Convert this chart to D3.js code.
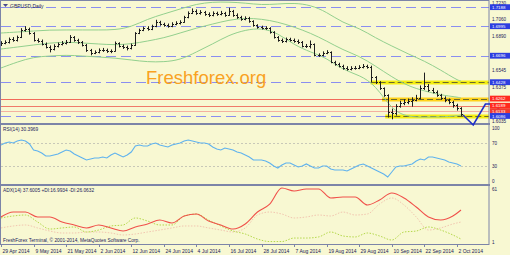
<!DOCTYPE html>
<html><head><meta charset="utf-8">
<script src="https://cdn.jsdelivr.net/npm/d3@7"></script>
<style>body{margin:0;background:#fff}svg{display:block}text{font-family:"Liberation Sans",Arial,sans-serif}</style>
</head><body><svg id="c" width="510" height="255"></svg>
<script>
// ---------- DATA ----------
const symbolTitle = "GBPUSD,Daily";
const tickIndex = [0,8,16,24,32,40,48,56,64,72,80,88,96,104,112];
const tickLabels = ["29 Apr 2014","9 May 2014","21 May 2014","2 Jun 2014","12 Jun 2014","24 Jun 2014","4 Jul 2014","16 Jul 2014","28 Jul 2014","7 Aug 2014","19 Aug 2014","29 Aug 2014","10 Sep 2014","22 Sep 2014","2 Oct 2014"];
const priceTicks = [1.7230,1.7060,1.6890,1.6545,1.6375,1.6035];
const open = [1.6810,1.6825,1.6835,1.6865,1.6855,1.6886,1.6957,1.6967,1.6926,1.6855,1.6845,1.6815,1.6784,1.6764,1.6795,1.6815,1.6825,1.6835,1.6886,1.6855,1.6835,1.6805,1.6754,1.6724,1.6734,1.6754,1.6754,1.6744,1.6744,1.6825,1.6795,1.6784,1.6774,1.6805,1.6926,1.6957,1.6977,1.6967,1.6997,1.7038,1.7017,1.7007,1.6997,1.7017,1.7027,1.7038,1.7088,1.7129,1.7149,1.7129,1.7139,1.7119,1.7108,1.7129,1.7119,1.7129,1.7108,1.7149,1.7108,1.7088,1.7068,1.7078,1.7048,1.7007,1.6987,1.6977,1.6977,1.6936,1.6886,1.6855,1.6845,1.6865,1.6855,1.6845,1.6835,1.6795,1.6795,1.6815,1.6703,1.6703,1.6724,1.6734,1.6633,1.6612,1.6592,1.6572,1.6562,1.6572,1.6572,1.6582,1.6592,1.6582,1.6481,1.6430,1.6369,1.6298,1.6126,1.6116,1.6187,1.6217,1.6227,1.6238,1.6248,1.6268,1.6369,1.6389,1.6349,1.6329,1.6298,1.6268,1.6248,1.6227,1.6197,1.6167];
const high = [1.6843,1.6852,1.6880,1.6885,1.6900,1.6975,1.6995,1.6980,1.6935,1.6872,1.6860,1.6830,1.6800,1.6812,1.6830,1.6845,1.6855,1.6905,1.6895,1.6868,1.6845,1.6815,1.6765,1.6750,1.6770,1.6775,1.6768,1.6760,1.6840,1.6832,1.6810,1.6798,1.6820,1.6935,1.6970,1.6990,1.6995,1.7010,1.7060,1.7050,1.7030,1.7022,1.7035,1.7045,1.7055,1.7100,1.7145,1.7175,1.7165,1.7158,1.7150,1.7135,1.7145,1.7142,1.7150,1.7140,1.7182,1.7160,1.7125,1.7100,1.7095,1.7090,1.7055,1.7015,1.7000,1.6995,1.6985,1.6945,1.6895,1.6870,1.6880,1.6878,1.6870,1.6860,1.6845,1.6815,1.6850,1.6820,1.6720,1.6740,1.6752,1.6740,1.6645,1.6625,1.6605,1.6590,1.6590,1.6592,1.6600,1.6612,1.6605,1.6595,1.6490,1.6438,1.6375,1.6305,1.6160,1.6205,1.6240,1.6255,1.6262,1.6275,1.6300,1.6395,1.6525,1.6410,1.6370,1.6345,1.6310,1.6285,1.6262,1.6240,1.6210,1.6175];
const low = [1.6795,1.6812,1.6820,1.6838,1.6840,1.6875,1.6940,1.6910,1.6840,1.6828,1.6800,1.6770,1.6730,1.6750,1.6780,1.6800,1.6810,1.6825,1.6838,1.6815,1.6790,1.6735,1.6700,1.6712,1.6720,1.6735,1.6725,1.6722,1.6738,1.6780,1.6765,1.6750,1.6760,1.6795,1.6915,1.6945,1.6950,1.6955,1.6985,1.7000,1.6990,1.6980,1.6985,1.7005,1.7012,1.7030,1.7075,1.7118,1.7110,1.7112,1.7100,1.7088,1.7095,1.7100,1.7105,1.7090,1.7100,1.7090,1.7070,1.7050,1.7055,1.7030,1.6990,1.6970,1.6962,1.6958,1.6920,1.6870,1.6838,1.6825,1.6830,1.6840,1.6828,1.6815,1.6780,1.6775,1.6770,1.6690,1.6685,1.6690,1.6712,1.6620,1.6595,1.6578,1.6555,1.6545,1.6548,1.6555,1.6560,1.6568,1.6565,1.6428,1.6410,1.6350,1.6280,1.6070,1.6052,1.6090,1.6170,1.6195,1.6205,1.6180,1.6235,1.6255,1.6350,1.6330,1.6315,1.6280,1.6250,1.6225,1.6205,1.6170,1.6140,1.6085];
const close = [1.6825,1.6835,1.6865,1.6855,1.6886,1.6957,1.6967,1.6926,1.6855,1.6845,1.6815,1.6784,1.6764,1.6795,1.6815,1.6825,1.6835,1.6886,1.6855,1.6835,1.6805,1.6754,1.6724,1.6734,1.6754,1.6754,1.6744,1.6744,1.6825,1.6795,1.6784,1.6774,1.6805,1.6926,1.6957,1.6977,1.6967,1.6997,1.7038,1.7017,1.7007,1.6997,1.7017,1.7027,1.7038,1.7088,1.7129,1.7149,1.7129,1.7139,1.7119,1.7108,1.7129,1.7119,1.7129,1.7108,1.7149,1.7108,1.7088,1.7068,1.7078,1.7048,1.7007,1.6987,1.6977,1.6977,1.6936,1.6886,1.6855,1.6845,1.6865,1.6855,1.6845,1.6835,1.6795,1.6795,1.6815,1.6703,1.6703,1.6724,1.6734,1.6633,1.6612,1.6592,1.6572,1.6562,1.6572,1.6572,1.6582,1.6592,1.6582,1.6481,1.6430,1.6369,1.6298,1.6126,1.6116,1.6187,1.6217,1.6227,1.6238,1.6248,1.6268,1.6369,1.6389,1.6349,1.6329,1.6298,1.6268,1.6248,1.6227,1.6197,1.6167,1.6106];

// Bollinger bands, sampled every 4 bars
const bbIndex = [0,4,8,12,16,20,24,28,32,36,40,44,48,52,56,60,64,68,72,76,80,84,88,92,96,100,104,108,112,113];
const bbUpper = [1.6926,1.6936,1.6946,1.6957,1.6957,1.6957,1.6957,1.6957,1.6987,1.7068,1.7119,1.7169,1.7220,1.7240,1.7240,1.7230,1.7210,1.7220,1.7230,1.7210,1.7139,1.7027,1.6977,1.6876,1.6795,1.6714,1.6643,1.6552,1.6450,1.6440];
const bbMiddle = [1.6764,1.6784,1.6805,1.6825,1.6835,1.6825,1.6815,1.6805,1.6815,1.6845,1.6876,1.6926,1.6977,1.7017,1.7058,1.7078,1.7068,1.7038,1.6987,1.6926,1.6845,1.6754,1.6693,1.6592,1.6481,1.6389,1.6339,1.6298,1.6278,1.6268];
const bbLower = [1.6572,1.6633,1.6683,1.6693,1.6703,1.6693,1.6683,1.6673,1.6653,1.6633,1.6633,1.6653,1.6734,1.6815,1.6906,1.6957,1.6977,1.6926,1.6805,1.6734,1.6673,1.6552,1.6501,1.6400,1.6146,1.6075,1.6075,1.6075,1.6086,1.6096];

// Horizontal levels
const blueLevels = [1.7188,1.6995,1.6696,1.6428,1.6086];
const redLevels = [1.6262,1.6189,1.6133];
const redLevelColors = ["#f26a5a","#f07a6a","#f4b0a0"];
const zonePrices = [1.6428,1.6262,1.6086];
const zoneStart = [90.8,93.6,94.4];
const blueLabels = ["1.7188","1.6995","1.6696","1.6428","1.6086"];
const redLabels = ["1.6262","1.6189","1.6133"];

// Forecast path
const fcIndex = [113.5,116,119,121,124.3];
const fcPrice = [1.6096,1.5995,1.6207,1.6207,1.6075];

// RSI(14), one value per bar
const rsi = [66.5,70.0,71.7,70.0,73.5,75.2,73.5,68.3,57.8,56.1,52.6,47.4,47.4,49.1,50.9,54.3,57.8,56.1,50.9,47.4,43.9,40.4,42.2,43.9,43.9,45.7,43.9,49.1,52.6,49.1,45.7,49.1,54.3,64.8,66.5,64.8,64.8,68.3,70.0,66.5,64.8,63.0,66.5,68.3,70.0,73.5,75.2,73.5,71.7,70.0,70.0,68.3,63.0,59.6,57.8,61.3,59.6,57.8,54.3,52.6,49.1,45.7,40.4,40.4,40.4,38.7,35.2,30.0,26.5,31.7,35.2,35.2,31.7,28.3,30.0,33.5,30.0,26.5,26.5,30.0,30.0,24.8,23.0,23.0,23.0,21.3,24.8,28.3,31.7,33.5,30.0,26.5,23.0,19.6,16.1,10.9,19.6,28.3,30.0,30.0,31.7,33.5,38.7,42.2,40.4,45.7,45.7,43.9,42.2,40.4,37.0,35.2,33.5,30.0];

// ADX(14) with +DI / -DI, sampled every 3 bars
const adxIndex = [0,3,6,9,12,15,18,21,24,27,30,33,36,39,42,45,48,51,54,57,60,63,66,69,72,75,78,81,84,87,90,93,96,99,102,105,108,111,113];
const adx = [28.8,34.3,34.3,28.8,28.8,23.2,19.9,16.6,19.9,16.6,13.2,17.7,21.0,25.4,22.1,29.9,32.1,24.3,19.9,15.4,21.0,34.3,43.2,61.0,57.7,59.9,59.9,49.9,51.0,51.0,42.1,47.7,55.4,49.9,39.9,28.8,25.4,29.9,36.6];
const plusDI = [27.7,29.9,31.0,23.2,15.4,16.6,17.7,12.1,14.3,18.8,19.9,27.7,24.3,19.9,19.9,29.9,32.1,25.4,18.8,13.2,9.9,4.3,1.5,1.5,5.4,5.4,6.6,12.1,7.7,6.6,11.0,7.7,3.2,12.1,13.2,17.7,14.3,8.8,4.3];
const minusDI = [16.6,18.8,19.9,16.6,13.2,11.0,11.0,12.1,12.1,11.0,8.8,9.9,12.1,14.3,16.6,18.8,18.8,16.6,14.3,12.1,16.6,31.0,34.3,32.1,27.7,28.8,31.0,29.9,34.3,31.0,32.1,43.2,49.9,42.1,28.8,14.3,16.6,21.0,23.2];
const rsiLabel = "RSI(14) 30.3969";
const adxLabel = "ADX(14) 37.6005 +DI:16.9934 -DI:26.0632";
const copyright = "FreshForex Terminal, © 2001-2014, MetaQuotes Software Corp.";
const watermark = "Freshforex.org";

// ---------- DRAW ----------
const svg = d3.select('#c');
const W = 510, H = 255, axisX = 489;
const navy = "#22225a", frame = "#7c84a8";
svg.append('rect').attr('width', W).attr('height', H).attr('fill', '#f8f8d2');

const x = d3.scaleLinear().domain([0, 113]).range([1, 461]);
const yP = d3.scaleLinear().domain([1.6035, 1.7230]).range([121, 3]);
const yR = d3.scaleLinear().domain([0, 100]).range([183.25, 125.75]);
const yA = d3.scaleLinear().domain([1, 61]).range([242, 188]);

const defs = svg.append('defs');
defs.append('clipPath').attr('id', 'mainClip').append('rect').attr('x', 1).attr('y', 1).attr('width', axisX - 1).attr('height', 122);
defs.append('clipPath').attr('id', 'rsiClip').append('rect').attr('x', 1).attr('y', 125).attr('width', axisX - 1).attr('height', 59);
defs.append('clipPath').attr('id', 'adxClip').append('rect').attr('x', 1).attr('y', 186).attr('width', axisX - 1).attr('height', 58);

const main = svg.append('g').attr('clip-path', 'url(#mainClip)');

// blue dashed levels
main.selectAll('line.bl').data(blueLevels).join('line')
  .attr('x1', 1).attr('x2', axisX).attr('y1', d => Math.round(yP(d)) + 0.5).attr('y2', d => Math.round(yP(d)) + 0.5)
  .attr('stroke', '#8a8ef0').attr('stroke-width', 1.2).attr('stroke-dasharray', '10,5');
// red levels
main.selectAll('line.rl').data(redLevels).join('line')
  .attr('x1', 1).attr('x2', axisX).attr('y1', d => Math.round(yP(d)) + 0.5).attr('y2', d => Math.round(yP(d)) + 0.5)
  .attr('stroke', (d, i) => redLevelColors[i]).attr('stroke-width', 1);
// yellow zones
zonePrices.forEach((p, i) => {
  const yy = Math.round(yP(p)) + 0.5;
  main.append('line').attr('x1', x(zoneStart[i])).attr('x2', axisX).attr('y1', yy).attr('y2', yy)
    .attr('stroke', i === 1 ? '#ffd21a' : '#f4ee10').attr('stroke-width', 4);
  main.append('line').attr('x1', x(zoneStart[i])).attr('x2', axisX).attr('y1', yy).attr('y2', yy)
    .attr('stroke', '#6b6a2a').attr('stroke-width', 1).attr('stroke-dasharray', '6,3');
});

// Bollinger
const bbLine = arr => d3.line().x((d, i) => x(bbIndex[i])).y(d => yP(d)).curve(d3.curveBasis)(arr);
[bbUpper, bbMiddle, bbLower].forEach(arr => {
  main.append('path').attr('d', bbLine(arr)).attr('fill', 'none').attr('stroke', '#93d08e').attr('stroke-width', 1);
});

// OHLC bars
const bars = main.append('g').attr('stroke', '#1e1e1e').attr('stroke-width', 1);
close.forEach((c, i) => {
  const cx = Math.round(x(i)) + 0.5;
  bars.append('line').attr('x1', cx).attr('x2', cx).attr('y1', yP(high[i])).attr('y2', yP(low[i]));
  bars.append('line').attr('x1', cx - 1.5).attr('x2', cx).attr('y1', Math.round(yP(open[i])) + 0.5).attr('y2', Math.round(yP(open[i])) + 0.5);
  bars.append('line').attr('x1', cx).attr('x2', cx + 1.5).attr('y1', Math.round(yP(c)) + 0.5).attr('y2', Math.round(yP(c)) + 0.5);
});

// watermark
svg.append('text').attr('x', 146).attr('y', 84).attr('fill', '#f9a21f').attr('font-size', 18.5)
  .attr('font-family', 'Arial, "Liberation Sans", sans-serif').text(watermark);

// RSI panel
const rsiG = svg.append('g').attr('clip-path', 'url(#rsiClip)');
[70, 30].forEach(v => rsiG.append('line').attr('x1', 1).attr('x2', axisX).attr('y1', Math.round(yR(v)) + 0.5).attr('y2', Math.round(yR(v)) + 0.5)
  .attr('stroke', '#c8c8b8').attr('stroke-width', 1).attr('stroke-dasharray', '2,2'));
rsiG.append('path').attr('d', d3.line().x((d, i) => x(i)).y(d => yR(d))(rsi))
  .attr('fill', 'none').attr('stroke', '#5fb2ee').attr('stroke-width', 1.1);

// ADX panel
const adxG = svg.append('g').attr('clip-path', 'url(#adxClip)');
const aLine = arr => d3.line().x((d, i) => x(adxIndex[i])).y(d => yA(d)).curve(d3.curveMonotoneX)(arr);
adxG.append('path').attr('d', aLine(minusDI)).attr('fill', 'none').attr('stroke', '#f2c6b0').attr('stroke-width', 1).attr('stroke-dasharray', '1.5,1.5');
adxG.append('path').attr('d', aLine(plusDI)).attr('fill', 'none').attr('stroke', '#b4d84a').attr('stroke-width', 1).attr('stroke-dasharray', '1.5,1.5');
adxG.append('path').attr('d', aLine(adx)).attr('fill', 'none').attr('stroke', '#f0504a').attr('stroke-width', 1.1);

// frames
svg.append('rect').attr('x', 0.5).attr('y', 0.5).attr('width', axisX - 0.5).attr('height', 244).attr('fill', 'none').attr('stroke', frame).attr('stroke-width', 1);
[124, 185].forEach(yy => svg.append('line').attr('x1', 0).attr('x2', axisX + 1).attr('y1', yy).attr('y2', yy).attr('stroke', frame).attr('stroke-width', 2));

// forecast path (drawn unclipped)
svg.append('path').attr('d', d3.line().x((d, i) => x(fcIndex[i])).y(d => yP(d))(fcPrice))
  .attr('fill', 'none').attr('stroke', '#1f2fc8').attr('stroke-width', 1.6);

// price axis labels
const fs = 4.6;
svg.selectAll('text.pt').data(priceTicks).join('text')
  .attr('x', 492).attr('y', d => yP(d) + 1.6).attr('font-size', fs).attr('fill', navy).text(d => d.toFixed(4));
// level boxes
const box = (p, label, fill) => {
  const yy = yP(p);
  svg.append('rect').attr('x', 490).attr('y', yy - 2.9).attr('width', 20).attr('height', 5.8).attr('fill', fill);
  svg.append('text').attr('x', 492).attr('y', yy + 1.6).attr('font-size', 4.4).attr('fill', '#fff').text(label);
};
blueLevels.forEach((p, i) => { if (i < 4) box(p, blueLabels[i], '#2d3ee0'); });
redLevels.forEach((p, i) => box(p, redLabels[i], i === 2 ? '#f03a30' : '#ff2a1e'));
box(blueLevels[4], blueLabels[4], '#2d3ee0');

// RSI axis labels
[100, 70, 30, 0].forEach(v => svg.append('text').attr('x', 492).attr('y', Math.min(Math.max(yR(v), 128), 181) + 1.6)
  .attr('font-size', fs).attr('fill', navy).text(v));
// ADX axis labels
[[61, 189], [1, 242]].forEach(([v, yy]) => svg.append('text').attr('x', 492).attr('y', yy + 1.6).attr('font-size', fs).attr('fill', navy).text(v));

// date axis
tickIndex.forEach((ti, k) => {
  const tx = Math.round(x(ti)) + 0.5;
  svg.append('line').attr('x1', tx).attr('x2', tx).attr('y1', 245).attr('y2', 247).attr('stroke', frame);
  svg.append('text').attr('x', tx + 1).attr('y', 253).attr('font-size', 5).attr('fill', navy).text(tickLabels[k]);
});

// panel titles
svg.append('path').attr('d', 'M3,4 L8,4 L5.5,7 Z').attr('fill', '#4a4a8a');
svg.append('text').attr('x', 10).attr('y', 7.5).attr('font-size', 5).attr('fill', navy).text(symbolTitle);
svg.append('text').attr('x', 3).attr('y', 131).attr('font-size', 4.8).attr('fill', navy).text(rsiLabel);
svg.append('text').attr('x', 3).attr('y', 192).attr('font-size', 4.8).attr('fill', navy).text(adxLabel);
svg.append('text').attr('x', 3).attr('y', 242).attr('font-size', 4.8).attr('fill', navy).text(copyright);
</script></body></html>
